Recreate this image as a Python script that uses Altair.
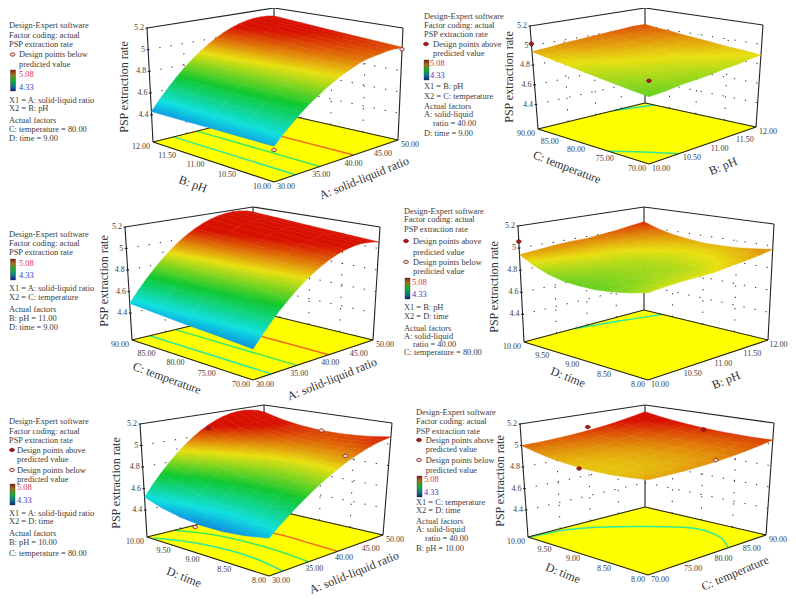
import numpy as np
import pandas as pd
import altair as alt

alt.data_transformers.disable_max_rows()

# ---------- values ----------
Z_TICKS = [4.4, 4.6, 4.8, 5.0, 5.2]
Z_LABELS = ["4.4", "4.6", "4.8", "5", "5.2"]
A_TICKS = [30, 35, 40, 45, 50]
B_TICKS = [10, 10.5, 11, 11.5, 12]
C_TICKS = [70, 75, 80, 85, 90]
D_TICKS = [8, 8.5, 9, 9.5, 10]

# rows run along X2 (low to high), columns along X1 (low to high)
Z_AB = [
 [4.45,4.53,4.60,4.67,4.73,4.78,4.83,4.87,4.91,4.94,4.97,4.99,5.00,5.01,5.02,5.02,5.02],
 [4.445,4.53,4.605,4.675,4.74,4.795,4.85,4.89,4.93,4.965,4.995,5.015,5.03,5.04,5.05,5.05,5.045],
 [4.44,4.53,4.61,4.68,4.75,4.81,4.865,4.91,4.955,4.99,5.02,5.04,5.06,5.07,5.075,5.075,5.07],
 [4.435,4.53,4.61,4.69,4.76,4.825,4.88,4.93,4.98,5.015,5.045,5.07,5.09,5.10,5.10,5.10,5.095],
 [4.43,4.526,4.615,4.697,4.771,4.839,4.90,4.953,5.0,5.04,5.072,5.098,5.116,5.127,5.132,5.129,5.12],
]
Z_BC = [
 [4.78,4.79,4.81,4.82,4.83,4.85,4.86,4.88,4.89],
 [4.80,4.81,4.83,4.84,4.85,4.87,4.88,4.89,4.91],
 [4.82,4.83,4.85,4.86,4.87,4.88,4.90,4.91,4.92],
 [4.84,4.85,4.87,4.88,4.89,4.90,4.92,4.93,4.94],
 [4.86,4.87,4.89,4.90,4.91,4.92,4.93,4.94,4.955],
 [4.88,4.89,4.91,4.92,4.93,4.94,4.95,4.96,4.97],
 [4.90,4.91,4.93,4.94,4.95,4.96,4.97,4.98,4.99],
 [4.92,4.93,4.95,4.96,4.97,4.98,4.99,5.00,5.00],
 [4.94,4.95,4.97,4.98,4.99,5.00,5.01,5.02,5.02],
]
Z_AC = [
 [4.415,4.512,4.602,4.684,4.758,4.824,4.884,4.935,4.98,5.016,5.045,5.066,5.08,5.086,5.084,5.076,5.06],
 [4.434,4.532,4.623,4.706,4.781,4.848,4.908,4.96,5.005,5.041,5.07,5.091,5.105,5.11,5.108,5.10,5.083],
 [4.452,4.552,4.644,4.728,4.804,4.872,4.933,4.985,5.03,5.066,5.095,5.116,5.13,5.135,5.132,5.123,5.105],
 [4.471,4.572,4.665,4.75,4.827,4.896,4.957,5.01,5.055,5.092,5.121,5.141,5.155,5.16,5.157,5.147,5.128],
 [4.49,4.592,4.686,4.772,4.85,4.92,4.982,5.035,5.08,5.117,5.146,5.166,5.18,5.184,5.181,5.17,5.15],
]
Z_BD = [
 [4.855,4.87,4.88,4.885,4.89,4.91,4.925,4.945,4.97],
 [4.82,4.835,4.85,4.86,4.865,4.885,4.905,4.93,4.95],
 [4.795,4.81,4.825,4.84,4.845,4.865,4.89,4.91,4.935],
 [4.78,4.795,4.815,4.83,4.835,4.855,4.88,4.905,4.93],
 [4.78,4.795,4.815,4.83,4.835,4.855,4.88,4.905,4.93],
 [4.79,4.81,4.83,4.845,4.85,4.87,4.895,4.92,4.945],
 [4.82,4.84,4.86,4.875,4.875,4.895,4.92,4.94,4.965],
 [4.87,4.89,4.905,4.92,4.92,4.94,4.955,4.975,5.00],
 [4.94,4.955,4.97,4.98,4.98,4.995,5.01,5.03,5.05],
]
Z_AD = [
 [4.47,4.536,4.598,4.656,4.71,4.761,4.808,4.851,4.89,4.926,4.958,4.985,5.01,5.031,5.048,5.061,5.07],
 [4.431,4.502,4.568,4.629,4.687,4.74,4.789,4.833,4.873,4.91,4.941,4.968,4.992,5.011,5.025,5.035,5.041],
 [4.411,4.487,4.557,4.623,4.683,4.74,4.79,4.835,4.877,4.913,4.944,4.97,4.992,5.009,5.019,5.026,5.028],
 [4.41,4.491,4.566,4.636,4.70,4.759,4.811,4.858,4.90,4.936,4.966,4.991,5.01,5.024,5.031,5.033,5.03],
 [4.428,4.515,4.595,4.669,4.737,4.798,4.853,4.901,4.943,4.979,5.008,5.031,5.047,5.057,5.06,5.057,5.048],
 [4.464,4.558,4.644,4.723,4.794,4.858,4.915,4.964,5.007,5.042,5.069,5.089,5.103,5.109,5.106,5.097,5.081],
 [4.52,4.62,4.712,4.796,4.871,4.938,4.997,5.048,5.09,5.124,5.15,5.167,5.176,5.177,5.169,5.154,5.13],
]
Z_CD = [
 [4.95,4.948,4.95,4.956,4.965,4.978,4.995,5.016,5.04],
 [4.932,4.932,4.936,4.944,4.955,4.97,4.989,5.012,5.038],
 [4.92,4.922,4.928,4.937,4.95,4.967,4.988,5.012,5.04],
 [4.916,4.919,4.926,4.937,4.951,4.969,4.991,5.017,5.046],
 [4.919,4.923,4.931,4.942,4.957,4.976,4.999,5.025,5.055],
 [4.929,4.933,4.941,4.953,4.969,4.988,5.011,5.038,5.068],
 [4.945,4.95,4.958,4.97,4.985,5.005,5.028,5.055,5.085],
 [4.97,4.974,4.982,4.993,5.008,5.027,5.05,5.076,5.106],
 [5.0,5.003,5.01,5.021,5.035,5.053,5.075,5.101,5.13],
]

GREEN, TEAL, ORANGE = "#40e860", "#30e898", "#f07020"
CONT_AB = [(TEAL, [(33, 10), (33, 12)]), (GREEN, [(36.6, 10), (36.6, 12)]), (ORANGE, [(42, 10), (42, 12)])]
CONT_BC = [(TEAL, [(11.34, 90), (11.7, 89), (12, 88)]), (TEAL, [(10, 76.4), (10.2, 74), (10.48, 70)])]
CONT_AC = [(TEAL, [(32.6, 70), (32.6, 90)]), (GREEN, [(36.5, 70), (36.5, 90)]), (ORANGE, [(41.8, 70), (41.8, 90)])]
CONT_BD = [(TEAL, [(10.78, 10), (11.4, 9.85), (12, 9.68)])]
CONT_AD = [(TEAL, [(30.3, 9.9), (32, 9.5), (33, 9), (33, 8.5), (32, 8)]),
           (GREEN, [(34, 10), (36, 9.5), (36.6, 9), (36.6, 8.5), (36, 8)]),
           (ORANGE, [(40, 10), (41.5, 9), (41.3, 8.5), (41, 8)])]
CONT_CD = [(TEAL, [(70, 9.98), (75, 9.91), (78.6, 9.71), (82.7, 9.33), (86.4, 8.81), (85.7, 8.36), (82.9, 8.0)])]

ABOVE, BELOW = "#b01818", "#f4d0d0"
PTS_AB = [(30, 10, 4.42, BELOW), (50, 10, 5.0, BELOW)]
PTS_BC = [(10, 90, 5.02, ABOVE), (10, 70, 4.93, ABOVE)]
PTS_AC = []
PTS_BD = [(10, 10, 5.06, ABOVE)]
PTS_AD = [(40, 10, 5.057, ABOVE), (50, 9, 5.03, BELOW), (41.5, 8, 5.0, BELOW), (30, 9.1, 4.38, BELOW)]
PTS_CD = [(80, 10, 5.07, ABOVE), (90, 9, 5.04, ABOVE), (70, 9, 4.91, ABOVE), (80, 8, 4.98, BELOW)]

LEG_HEAD = ["Design-Expert software", "Factor coding: actual", "PSP extraction rate"]

# ---------- layout (reference pixels) ----------
PANELS = [
 dict(z=Z_AB, x1=A_TICKS, x2=B_TICKS, cont=CONT_AB, pts=PTS_AB,
      F=(274,182), R=(398,140), L=(153,142), K=(274,112),
      tF=(274,57), tR=(403,28), tL=(147,28), tK=(274,8),
      t1=("A: solid-liquid ratio",364,178,338), t2=("B: pH",193,184,20), tz=(124,87),
      lx=9, leg=[(LEG_HEAD[0],25,0),(LEG_HEAD[1],34.5,0),(LEG_HEAD[2],44,0),
                 ("Design points below",54,10),("predicted value",63.5,10),
                 ("X1 = A: solid-liquid ratio",99.5,0),("X2 = B: pH",108,0),("Actual factors",120,0),
                 ("C: temperature = 80.00",128.5,0),("D: time = 9.00",137.5,0)],
      mk=[(12.5,54.5,BELOW)], bar=(10.5,15.5,70,91), n=(19,73.5,86.5)),
 dict(z=Z_BC, x1=B_TICKS, x2=C_TICKS, cont=CONT_BC, pts=PTS_BC,
      F=(649,164), R=(756,127), L=(538,129), K=(645,103),
      tF=(649,52), tR=(763,25), tL=(530,26), tK=(645,8),
      t1=("B: pH",723,166,338), t2=("C: temperature",567,167,21), tz=(509,77),
      lx=424, leg=[(LEG_HEAD[0],16,0),(LEG_HEAD[1],24.5,0),(LEG_HEAD[2],33.5,0),
                 ("Design points above",44,9),("predicted value",52.5,9),
                 ("X1 = B: pH",86,0),("X2 = C: temperature",95.5,0),("Actual factors",106,0),
                 ("A: solid-liquid",114,0),("ratio = 40.00",123,9),("D: time = 9.00",133,0)],
      mk=[(426,44,ABOVE)], bar=(424,429,60,80), n=(430,62.5,75)),
 dict(z=Z_AC, x1=A_TICKS, x2=C_TICKS, cont=CONT_AC, pts=PTS_AC,
      F=(253,380), R=(373,340), L=(132,340), K=(253,311),
      tF=(253,257), tR=(380,227), tL=(125,227), tK=(253,207),
      t1=("A: solid-liquid ratio",332,379,338), t2=("C: temperature",167,378,20), tz=(104,281),
      lx=9, leg=[(LEG_HEAD[0],233.7,0),(LEG_HEAD[1],242.7,0),(LEG_HEAD[2],252,0),
                 ("X1 = A: solid-liquid ratio",288.3,0),("X2 = C: temperature",296.7,0),("Actual factors",309,0),
                 ("B: pH = 11.00",318,0),("D: time = 9.00",327.3,0)],
      mk=[], bar=(10.5,15.5,259,280), n=(19,262.7,275)),
 dict(z=Z_BD, x1=B_TICKS, x2=D_TICKS, cont=CONT_BD, pts=PTS_BD,
      F=(648,380), R=(768,340), L=(524,342), K=(644,310),
      tF=(648,250), tR=(774,224), tL=(518,226), tK=(644,207),
      t1=("B: pH",726,380,338), t2=("D: time",568,377,22), tz=(494,287),
      lx=404, leg=[(LEG_HEAD[0],210.7,0),(LEG_HEAD[1],219.3,0),(LEG_HEAD[2],228.7,0),
                 ("Design points above",241,9),("predicted value",251.7,9),
                 ("Design points below",262,9),("predicted value",271.3,9),
                 ("X1 = B: pH",307.3,0),("X2 = D: time",316.3,0),("Actual factors",327.7,0),
                 ("A: solid-liquid",335.7,0),("ratio = 40.00",344.3,9),("C: temperature = 80.00",352.3,0)],
      mk=[(406,241,ABOVE),(406,262,BELOW)], bar=(405,410,278,299), n=(412,281.7,294.3)),
 dict(z=Z_AD, x1=A_TICKS, x2=D_TICKS, cont=CONT_AD, pts=PTS_AD,
      F=(269,576), R=(383,535), L=(147,537), K=(265,508),
      tF=(269,452), tR=(392,423), tL=(140,424), tK=(264,405),
      t1=("A: solid-liquid ratio",354,572.5,338), t2=("D: time",184,577,22), tz=(116,483),
      lx=9, leg=[(LEG_HEAD[0],421.3,0),(LEG_HEAD[1],430.7,0),(LEG_HEAD[2],440,0),
                 ("Design points above",450,8),("predicted value",459.3,8),
                 ("Design points below",470,8),("predicted value",479,8),
                 ("X1 = A: solid-liquid ratio",513.3,0),("X2 = D: time",521.3,0),("Actual factors",532.7,0),
                 ("B: pH = 10.00",542.3,0),("C: temperature = 80.00",552.7,0)],
      mk=[(12,450,ABOVE),(12,470,BELOW)], bar=(10,15,484,505), n=(17,487.3,500.3)),
 dict(z=Z_CD, x1=C_TICKS, x2=D_TICKS, cont=CONT_CD, pts=PTS_CD,
      F=(648,575), R=(766,535), L=(528,537), K=(645,507),
      tF=(648,450), tR=(774,423), tL=(520,424), tK=(645,405),
      t1=("C: temperature",735,573,337), t2=("D: time",563,573,22), tz=(500,481),
      lx=416, leg=[(LEG_HEAD[0],412.3,0),(LEG_HEAD[1],421.3,0),(LEG_HEAD[2],430.7,0),
                 ("Design points above",440,9.7),("predicted value",449.3,9.7),
                 ("Design points below",460,9.7),("predicted value",470,9.7),
                 ("X1 = C: temperature",501.8,0),("X2 = D: time",510,0),("Actual factors",521,0),
                 ("A: solid-liquid",529.3,0),("ratio = 40.00",538,9),("B: pH = 10.00",547.7,0)],
      mk=[(419,440,ABOVE),(419,460,BELOW)], bar=(417,422,476,497), n=(424,479,491.7)),
]
Z0, Z1 = 4.15, 5.2
INK = "#3c3c3c"
CMAP_Z = [4.33, 4.5175, 4.705, 4.8925, 5.08]
CMAP_C = [(10, 80, 224), (16, 224, 224), (16, 200, 48), (232, 224, 16), (216, 16, 0)]


def hexcol(z):
    z = float(np.clip(z, CMAP_Z[0], CMAP_Z[-1]))
    rgb = [int(round(np.interp(z, CMAP_Z, [c[k] for c in CMAP_C]))) for k in range(3)]
    return "#%02x%02x%02x" % tuple(rgb)


def cell_gradient(ring, zs):
    """Linear gradient across one quad, in the quad's own bounding-box units."""
    pa = np.array(ring[:4], float)
    zv = np.array(zs, float)
    mn, mx = pa.min(axis=0), pa.max(axis=0)
    nn = (pa - mn) / np.maximum(mx - mn, 1e-6)
    coef, *_ = np.linalg.lstsq(np.c_[nn, np.ones(4)], zv, rcond=None)
    d = coef[:2]
    norm = float(np.hypot(*d))
    if norm < 1e-6:
        return hexcol(zv.mean())
    d = d / norm
    s = nn @ d
    s0, s1 = float(s.min()), float(s.max())
    centre = np.array([0.5, 0.5])
    base = centre - d * float(centre @ d)
    p0 = base + d * s0
    p1 = base + d * s1
    z0 = float(coef[2] + coef[:2] @ p0)
    z1 = float(coef[2] + coef[:2] @ p1)
    offs = [0.0, 1.0] + [(b - z0) / (z1 - z0) for b in CMAP_Z if min(z0, z1) < b < max(z0, z1)]
    stops = [{"offset": round(o, 4), "color": hexcol(z0 + o * (z1 - z0))} for o in sorted(offs)]
    return {"gradient": "linear", "x1": round(float(p0[0]), 4), "y1": round(float(p0[1]), 4),
            "x2": round(float(p1[0]), 4), "y2": round(float(p1[1]), 4), "stops": stops}


def homography(F, R, L, K):
    src = [(0, 0), (1, 0), (0, 1), (1, 1)]
    dst = [F, R, L, K]
    A, b = [], []
    for (u, v), (x, y) in zip(src, dst):
        A.append([u, v, 1, 0, 0, 0, -u * x, -v * x]); b.append(x)
        A.append([0, 0, 0, u, v, 1, -u * y, -v * y]); b.append(y)
    h = np.linalg.solve(np.array(A, float), np.array(b, float))
    return np.append(h, 1).reshape(3, 3)


def apply(H, u, v):
    p = H @ np.array([u, v, 1.0])
    return p[:2] / p[2]


cells, floors, rules, dots, lines, pts, left, right, center, bars = [], [], [], [], [], [], [], [], [], []
lid = 0
for P in PANELS:
    Hf = homography(P["F"], P["R"], P["L"], P["K"])
    Ht = homography(P["tF"], P["tR"], P["tL"], P["tK"])

    def proj(u, v, z=Z0):
        t = (z - Z0) / (Z1 - Z0)
        a, b = apply(Hf, u, v), apply(Ht, u, v)
        q = a + t * (b - a)
        return round(float(q[0]), 1), round(float(q[1]), 1)

    x1a, x1b = P["x1"][0], P["x1"][-1]
    x2a, x2b = P["x2"][0], P["x2"][-1]
    U = lambda a: (a - x1a) / (x1b - x1a)
    V = lambda a: (a - x2a) / (x2b - x2a)

    floors.append({"type": "Feature", "properties": {},
                   "geometry": {"type": "Polygon", "coordinates": [[list(proj(0, 0)), list(proj(1, 0)), list(proj(1, 1)), list(proj(0, 1)), list(proj(0, 0))]]}})

    # surface cells, far ones first
    Z = np.array(P["z"], float)
    nr, nc = Z.shape
    order = sorted(((i, j) for i in range(nr - 1) for j in range(nc - 1)), key=lambda t: -(t[0] / (nr - 1) + t[1] / (nc - 1)))
    for i, j in order:
        c = [(j, i), (j + 1, i), (j + 1, i + 1), (j, i + 1), (j, i)]
        ring = [list(proj(a / (nc - 1), b / (nr - 1), Z[b, a])) for a, b in c]
        cells.append({"type": "Feature", "properties": {"g": cell_gradient(ring, [Z[b, a] for a, b in c[:4]])},
                      "geometry": {"type": "Polygon", "coordinates": [ring]}})

    # box
    for a, b in [("F", "R"), ("F", "L"), ("R", "K"), ("L", "K"), ("tL", "tK"), ("tK", "tR"), ("L", "tL"), ("R", "tR"), ("K", "tK")]:
        rules.append(dict(x=P[a][0], y=P[a][1], x2=P[b][0], y2=P[b][1]))

    # back-wall dotted grid and z ticks
    for k, zt in enumerate(Z_TICKS):
        q = proj(0, 1, zt); m = proj(1, 1, zt); w = proj(1, 0, zt)
        if k < 4:
            dots.append(dict(x=q[0], y=q[1], x2=m[0], y2=m[1]))
            dots.append(dict(x=m[0], y=m[1], x2=w[0], y2=w[1]))
        rules.append(dict(x=q[0] - 1.5, y=q[1], x2=q[0] + 1, y2=q[1]))
        right.append(dict(x=q[0] - 3, y=q[1], text=Z_LABELS[k], size=8, color=INK))
    for a in P["x1"][1:-1]:
        b0, t0 = proj(U(a), 1, Z0), proj(U(a), 1, 5.0)
        dots.append(dict(x=b0[0], y=b0[1], x2=t0[0], y2=t0[1]))
    for a in P["x2"][1:-1]:
        b0, t0 = proj(1, V(a), Z0), proj(1, V(a), 5.0)
        dots.append(dict(x=b0[0], y=b0[1], x2=t0[0], y2=t0[1]))

    # tick labels
    for a in P["x1"]:
        q = proj(U(a), 0)
        left.append(dict(x=min(q[0] + 3, 769.5), y=q[1] + 5, text=f"{a:.2f}", size=8, color=INK))
    for a in P["x2"]:
        q = proj(0, V(a))
        right.append(dict(x=q[0] - 3, y=q[1] + 5, text=f"{a:.2f}", size=8, color=INK))

    # contours on the floor
    for colr, pl in P["cont"]:
        lid += 1
        for n, (a, b) in enumerate(pl):
            q = proj(U(a), V(b))
            lines.append(dict(x=q[0], y=q[1], i=n, g=lid, c=colr))

    # design points
    for a, b, zv, f in P["pts"]:
        q = proj(U(a), V(b), zv)
        pts.append(dict(x=q[0], y=q[1], f=f))
    for mx, my, f in P["mk"]:
        pts.append(dict(x=mx, y=my, f=f))

    # titles
    for tt in (P["t1"], P["t2"]):
        center.append(dict(x=tt[1], y=tt[2], text=tt[0], size=12, color="#333333", angle=tt[3]))
    center.append(dict(x=P["tz"][0], y=P["tz"][1], text="PSP extraction rate", size=12, color="#333333", angle=270))

    # legend
    for txt, ly, dx in P["leg"]:
        left.append(dict(x=P["lx"] + dx, y=ly, text=txt, size=8.4, color=INK))
    left.append(dict(x=P["n"][0], y=P["n"][1], text="5.08", size=8.4, color="#d83048"))
    left.append(dict(x=P["n"][0], y=P["n"][2], text="4.33", size=8.4, color="#3838c8"))
    bars.append(dict(x=P["bar"][0], x2=P["bar"][1], y=P["bar"][2], y2=P["bar"][3]))

sx = alt.Scale(domain=[8, 788], range=[0, 780])
sy = alt.Scale(domain=[8, 594], range=[0, 586])
X = alt.X("x:Q", scale=sx, axis=None)
Y = alt.Y("y:Q", scale=sy, axis=None)
proj_spec = dict(type="identity", scale=1, translate=[-8, -8])

floor_l = alt.Chart(alt.Data(values=floors)).mark_geoshape(fill="#ffff00", stroke="#ffff00").project(**proj_spec)
cont_l = alt.Chart(pd.DataFrame(lines)).mark_line(strokeWidth=1.5, interpolate="cardinal").encode(
    x=X, y=Y, detail="g:N", order="i:Q", color=alt.Color("c:N", scale=None))
dot_l = alt.Chart(pd.DataFrame(dots)).mark_rule(color="#303030", strokeWidth=1, strokeDash=[1.3, 10]).encode(x=X, y=Y, x2="x2:Q", y2="y2:Q")
box_l = alt.Chart(pd.DataFrame(rules)).mark_rule(color="#222222", strokeWidth=1.1).encode(x=X, y=Y, x2="x2:Q", y2="y2:Q")
surf_l = alt.Chart(alt.Data(values=cells)).mark_geoshape(strokeWidth=0.5).encode(
    fill=alt.Fill("properties.g:N", scale=None),
    stroke=alt.Stroke("properties.g:N", scale=None)).project(**proj_spec)
pts_l = alt.Chart(pd.DataFrame(pts)).mark_point(
    filled=True, opacity=1, size=22, stroke="#701010", strokeWidth=0.8,
    shape="M-1,0 A1,0.72 0 1 1 1,0 A1,0.72 0 1 1 -1,0 Z").encode(x=X, y=Y, fill=alt.Fill("f:N", scale=None))
grad = alt.Gradient(gradient="linear", x1=0, x2=0, y1=0, y2=1,
                    stops=[alt.GradientStop(offset=0, color="#8a1a10"), alt.GradientStop(offset=0.22, color="#a07018"),
                           alt.GradientStop(offset=0.5, color="#10b030"), alt.GradientStop(offset=0.78, color="#0a7a90"),
                           alt.GradientStop(offset=1, color="#101a80")])
bar_l = alt.Chart(pd.DataFrame(bars)).mark_rect(fill=grad, stroke="#333333", strokeWidth=0.4).encode(x=X, x2="x2:Q", y=Y, y2="y2:Q")


def text_layer(rows, align):
    df = pd.DataFrame(rows)
    enc = dict(x=X, y=Y, text="text:N", size=alt.Size("size:Q", scale=None), color=alt.Color("color:N", scale=None))
    if "angle" in df:
        enc["angle"] = alt.Angle("angle:Q", scale=None)
    return alt.Chart(df).mark_text(font="Liberation Serif", align=align, baseline="middle").encode(**enc)


chart = alt.layer(floor_l, cont_l, dot_l, box_l, surf_l, pts_l, bar_l,
                  text_layer(left, "left"), text_layer(right, "right"), text_layer(center, "center")
                  ).properties(width=780, height=586, padding=0, autosize=alt.AutoSizeParams(type="none")
                  ).configure_view(stroke=None).resolve_scale(color="independent", fill="independent", stroke="independent")

chart.save("out.html", embed_options={"renderer": "svg", "actions": False})
